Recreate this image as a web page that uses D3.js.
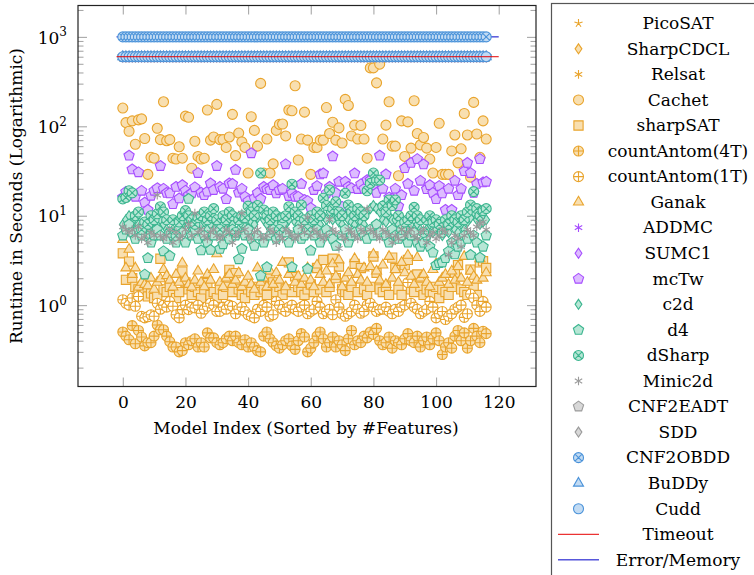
<!DOCTYPE html>
<html>
<head>
<meta charset="utf-8">
<script src="https://cdn.jsdelivr.net/npm/d3@7"></script>
<style>
  body { margin: 0; background: #fff; }
  text { font-family: "DejaVu Serif", serif; fill: #000; }
</style>
</head>
<body>
<svg id="chart" width="754" height="575"></svg>
<script>
// ---- data: runtime (s) per model, models sorted by number of features ----
const modelIndex = d3.range(117);
const TIMEOUT = 600;
const ERROR_MEM = 1000;
const limitLineRange = [-2, 120];

const xTicks = [0, 20, 40, 60, 80, 100, 120];
const yMajorTicks = [1, 10, 100, 1000];
const yTickExponents = ["0", "1", "2", "3"];

// solvers that timed out on every model
const allTimeout = [
  600,600,600,600,600,600,600,600,600,600,600,600,600,600,600,600,600,600,600,600,
  600,600,600,600,600,600,600,600,600,600,600,600,600,600,600,600,600,600,600,600,
  600,600,600,600,600,600,600,600,600,600,600,600,600,600,600,600,600,600,600,600,
  600,600,600,600,600,600,600,600,600,600,600,600,600,600,600,600,600,600,600,600,
  600,600,600,600,600,600,600,600,600,600,600,600,600,600,600,600,600,600,600,600,
  600,600,600,600,600,600,600,600,600,600,600,600,600,600,600,600,600];
// solvers that failed (error / out of memory) on every model
const allError = [
  1000,1000,1000,1000,1000,1000,1000,1000,1000,1000,1000,1000,1000,1000,1000,1000,1000,1000,1000,1000,
  1000,1000,1000,1000,1000,1000,1000,1000,1000,1000,1000,1000,1000,1000,1000,1000,1000,1000,1000,1000,
  1000,1000,1000,1000,1000,1000,1000,1000,1000,1000,1000,1000,1000,1000,1000,1000,1000,1000,1000,1000,
  1000,1000,1000,1000,1000,1000,1000,1000,1000,1000,1000,1000,1000,1000,1000,1000,1000,1000,1000,1000,
  1000,1000,1000,1000,1000,1000,1000,1000,1000,1000,1000,1000,1000,1000,1000,1000,1000,1000,1000,1000,
  1000,1000,1000,1000,1000,1000,1000,1000,1000,1000,1000,1000,1000,1000,1000,1000,1000];

const cachet = [
  160,110,88,115,63,118,121,73,29,45,
  44,95,71,188,69,71,44,43,59,44,
  130,126,34,68,46,43,44,152,70,76,
  176,71,71,58,76,136,47,84,67,58,
  30,128,90,60,302,30,72,30,38,90,
  105,106,78,152,149,284,42,72,144,70,
  29,58,58,70,70,162,83,111,70,96,
  65,200,171,78,103,72,102,72,44,450,
  450,306,495,72,103,188,60,60,28,115,
  46,112,57,193,83,62,75,57,43,30,
  58,108,29,29,29,53,80,39,56,139,
  80,27,185,82,45,115,72];

const sharpSAT = [
  3.8,1.92,3.07,2.0,1.6,1.5,1.3,1.4,1.25,1.35,
  1.2,1.3,3.3,1.5,1.4,1.6,1.3,1.2,1.4,2.37,
  1.8,1.5,1.3,1.6,1.4,1.2,1.5,1.76,1.3,1.4,
  1.2,1.5,1.3,1.6,2.48,1.4,2.28,1.5,1.3,1.2,
  1.5,1.4,1.3,1.6,1.4,1.5,1.3,2.0,1.8,1.4,
  1.6,1.3,1.5,3.0,1.4,2.1,1.6,1.4,1.3,1.5,
  1.7,1.4,2.6,1.5,3.2,1.4,1.6,3.3,2.0,2.7,
  1.5,1.4,1.3,1.6,2.9,1.4,2.6,1.5,1.3,1.6,
  3.5,2.3,1.5,1.4,1.6,1.3,3.4,2.6,1.5,1.3,
  2.8,3.2,1.5,1.4,2.2,1.6,1.3,1.5,1.4,1.3,
  1.6,1.2,1.5,1.4,1.3,1.6,2.3,2.8,1.5,1.4,
  1.3,2.5,1.6,1.3,3.0,3.1,2.6];

const countAntom4T = [
  0.50,0.45,0.41,0.59,0.37,0.52,0.44,0.35,0.38,0.38,
  0.45,0.60,0.53,0.53,0.45,0.39,0.34,0.34,0.30,0.31,
  0.38,0.36,0.40,0.42,0.34,0.38,0.34,0.49,0.43,0.43,
  0.38,0.36,0.38,0.42,0.45,0.40,0.45,0.38,0.36,0.41,
  0.34,0.38,0.34,0.31,0.30,0.45,0.50,0.42,0.38,0.35,
  0.33,0.36,0.40,0.42,0.35,0.32,0.40,0.48,0.44,0.30,
  0.33,0.38,0.45,0.50,0.42,0.34,0.38,0.44,0.34,0.40,
  0.36,0.31,0.42,0.52,0.36,0.40,0.38,0.45,0.43,0.50,
  0.47,0.55,0.40,0.36,0.38,0.44,0.33,0.40,0.38,0.36,
  0.42,0.48,0.40,0.38,0.45,0.34,0.40,0.44,0.36,0.42,
  0.49,0.40,0.28,0.34,0.38,0.33,0.45,0.52,0.40,0.49,
  0.33,0.40,0.55,0.45,0.38,0.51,0.48];

const countAntom1T = [
  1.15,1.05,1.0,1.2,0.97,1.25,0.75,0.72,0.74,0.78,
  0.75,1.05,0.9,1.0,0.95,1.1,0.97,0.78,0.72,0.89,
  1.0,0.89,0.95,0.93,1.0,0.81,0.9,0.97,1.05,1.0,
  0.85,0.85,0.95,0.9,1.0,0.97,0.8,0.9,0.95,0.85,
  0.78,0.75,0.72,0.9,0.85,1.0,0.95,0.75,0.78,1.1,
  1.0,0.9,0.85,0.95,1.0,0.9,0.85,0.95,1.0,0.8,
  0.85,0.9,1.1,0.95,0.8,0.85,0.9,0.78,1.15,0.95,
  0.8,0.75,0.8,0.85,1.0,0.9,0.81,0.85,1.0,1.05,
  0.95,0.85,0.89,0.9,0.95,0.85,0.8,0.9,0.85,0.95,
  1.0,1.79,1.05,0.95,0.9,0.8,0.85,0.9,1.1,0.95,
  0.72,0.8,0.85,0.69,0.75,0.8,0.9,0.95,1.0,0.73,
  0.8,1.33,1.2,1.0,0.85,1.1,0.95];

const ganak = [
  5.4,2.6,4.2,2.2,2.6,1.59,1.8,1.7,1.64,2.0,
  1.5,1.8,1.97,2.5,2.13,1.9,1.59,2.2,1.8,2.95,
  2.0,1.7,1.59,1.9,2.4,1.8,1.6,2.2,1.9,2.5,
  3.74,1.8,1.6,2.0,2.2,1.7,1.9,2.3,1.6,1.8,
  2.1,1.7,1.5,2.6,1.8,2.0,1.6,2.4,1.7,2.3,
  1.9,3.0,1.6,2.2,2.5,1.8,2.1,1.7,2.0,2.6,
  1.9,1.6,2.8,2.2,1.8,2.4,1.7,2.9,2.1,3.2,
  1.6,2.0,2.3,1.8,3.3,2.2,1.9,2.6,1.8,2.7,
  3.7,2.4,1.9,2.8,1.7,3.5,2.0,2.5,1.8,3.0,
  2.3,3.6,2.1,1.7,3.4,2.0,2.2,1.8,1.6,2.5,
  2.9,1.8,2.0,2.2,1.7,2.4,1.9,2.7,2.0,3.5,
  1.8,2.4,2.1,1.9,3.3,2.0,2.3];

const mcTw = [
  16,18.5,47,33,16.3,30.6,19,14,11.6,16.7,
  19,20.3,36,20,18,17.8,13.5,21,15.6,22,
  19,17,17.8,20.8,30,18.1,17,18.6,23,19.4,
  36,21,20,15.3,23,22.7,32.5,18.1,20,16.3,
  14.6,50,15.7,18,15.4,21,19.8,19.4,22,17.8,
  19.4,20,37.6,16.6,18,16.3,16.3,22.7,15,14.6,
  12.2,19.4,21.5,29,29.7,17.8,21,46,18,24,
  12.6,24,21,20.3,29.7,19.9,22.5,20,25,25,
  22,18,47,20,29,16,15.4,20,12.8,17,
  34,22.7,39,19,43,24.6,37.5,19.8,22,18,
  15.3,21.5,17.8,11.6,20,11.6,24.6,17,20,31.5,
  39,30,18,22.7,43,23.6,24];

const c2d = [
  8,9,10,8.5,7,8,7.5,6.5,6,7.5,
  7,8,9,8,7,6.5,7,6,7,8,
  9,8,7,6.5,7.5,8,8.5,7,8,9,
  7,6.5,8,7,8.5,8,6.5,7,8,7.5,
  9,8.5,8,9.5,12,9,8,7,8.5,8,
  7,7.5,8,9,11,8.5,8,9.5,7,6.5,
  8,7,8.5,8,10,9,11,9,10,8.5,
  8,10,9,8.5,8,9,8.5,8,11,12,
  13,12,11,9,8.5,10,9,8.95,8,7,
  6.5,7,8,9,8,7,6.5,7,8,6.5,
  7,6.5,6,7,6.5,8,7,6.5,8,7,
  8.5,9.5,11,9,8,8.5,9];

const d4 = [
  6,7,8,6.5,5.5,7,6,2.2,3.35,5,
  6,7,6,4,5.5,3.55,6,5,7,6.5,
  5,15.4,6,7,5.5,4.1,6,5,4.15,6,
  7,4.25,4.8,6,5.5,7,6,3.26,4.25,6,
  7,5.5,4.6,6,2.13,5,2.66,6,7,5.5,
  6,8,6.5,5,2.66,6,7,5.5,6,2.54,
  4.07,6,7,5,6.5,7,6,5.5,4.6,9.96,
  6,7,5,6,6.5,11.9,7,6,5.5,7,
  6,8,6.5,12.8,6,5,7,6,5.5,6,
  7,5,6,6.5,5,4.5,5,6,4.5,3.87,
  2.8,2.95,3.0,3.35,4,5,3.7,4.5,5,6,
  5.5,3.65,6,5,3.4,4.5,6];

const dSharp = [
  15.4,16,19,18,10,11,7,8.5,8,10,
  9,10.5,12.6,11,9,6.5,9,6,8.5,10,
  11.4,10,9,8,9.5,10,11,9,10,12,
  9,7,10,9,11,10,6.5,9,10,9.5,
  12.8,11,10,13,30,11.6,10,9,11,10,
  7,9.5,10,12.6,22.5,11,10,13.2,9,7,
  10,9,11,10,15.7,13,19.4,12,14.3,11,
  10,17.8,13.2,11,10,12,11,10,19,23,
  30,25,25,12.8,11,15,13,15,10,7,
  8.5,9,10,12.4,10,9,6.5,9,10,8.5,
  9,8,6.5,9,8,10,9,8.5,10,9,
  11,13.2,18.6,12,10,11.4,12];

const minic2d = [
  7.5,7,6.5,7,6,7.5,5.5,6,5,6.5,
  6,17,6,5.5,6,7,5,6.5,5.5,6,
  7,8,6,10.7,6.5,7,6,5.5,6.5,7,
  6,5.5,6,7,6.5,5,6,6.5,10.7,7,
  6,5.5,6.5,7,6,5.5,6,7,6.5,5,
  6,5.5,7,6.5,6,5.5,6,7.5,6.5,9.6,
  6,7,6.5,6,5.5,6,9.1,7,6.5,4.3,
  6,5.5,7,6.5,6,5.5,7,6.5,11.9,7,
  6.5,6,5.5,7,6.5,6,5,6,5.5,7,
  6,6.5,7,6,5.5,6.5,7,5,6,6.5,
  5.5,6,7,6.5,3.65,5,6,5.5,4.5,6,
  7,6.5,6,7.5,8.2,8.5,7];

// ---- solver list (drawing order = legend order) ----
const ORANGE = { stroke: "#e9a42c", fill: "#f8dfb0" };
const PURPLE = { stroke: "#a64dff", fill: "#ddbcff" };
const TEAL   = { stroke: "#3bb58f", fill: "#b7e6d5" };
const GRAY   = { stroke: "#9b9b9b", fill: "#d8d8d8" };
const BLUE   = { stroke: "#4a92d9", fill: "#c2dbf3" };

const solvers = [
  { name: "PicoSAT",        values: allTimeout,   shape: "star",     col: ORANGE, fill: "none" },
  { name: "SharpCDCL",      values: allTimeout,   shape: "diamond",  col: ORANGE },
  { name: "Relsat",         values: allTimeout,   shape: "asterisk", col: ORANGE, fill: "none" },
  { name: "Cachet",         values: cachet,       shape: "circle",   col: ORANGE },
  { name: "sharpSAT",       values: sharpSAT,     shape: "square",   col: ORANGE },
  { name: "countAntom(4T)", values: countAntom4T, shape: "oplus",    col: ORANGE },
  { name: "countAntom(1T)", values: countAntom1T, shape: "oplus",    col: ORANGE, fill: "#ffffff" },
  { name: "Ganak",          values: ganak,        shape: "triangle", col: ORANGE },
  { name: "ADDMC",          values: allTimeout,   shape: "asterisk", col: PURPLE, fill: "none" },
  { name: "SUMC1",          values: allTimeout,   shape: "diamond",  col: PURPLE },
  { name: "mcTw",           values: mcTw,         shape: "pentagon", col: PURPLE },
  { name: "c2d",            values: c2d,          shape: "diamond",  col: TEAL },
  { name: "d4",             values: d4,           shape: "pentagon", col: TEAL },
  { name: "dSharp",         values: dSharp,       shape: "otimes",   col: TEAL },
  { name: "Minic2d",        values: minic2d,      shape: "asterisk", col: GRAY, fill: "none" },
  { name: "CNF2EADT",       values: allTimeout,   shape: "pentagon", col: GRAY },
  { name: "SDD",            values: allTimeout,   shape: "diamond",  col: GRAY },
  { name: "CNF2OBDD",       values: allError,     shape: "otimes",   col: BLUE },
  { name: "BuDDy",          values: allTimeout,   shape: "triangle", col: BLUE },
  { name: "Cudd",           values: allTimeout,   shape: "circle",   col: BLUE }
];
const limitLines = [
  { name: "Timeout",      value: TIMEOUT,   color: "#e60000", above: true },
  { name: "Error/Memory", value: ERROR_MEM, color: "#0000c8", above: false }
];

// ---- marker outlines ----
function circ(r) { return `M${r},0A${r},${r} 0 1,1 ${-r},0A${r},${r} 0 1,1 ${r},0Z`; }
function markerPath(shape) {
  const r = 5;
  switch (shape) {
    case "circle": return circ(r);
    case "oplus": return circ(r) + `M${-r},0H${r}M0,${-r}V${r}`;
    case "otimes": { const q = r * 0.7071; return circ(r) + `M${-q},${-q}L${q},${q}M${-q},${q}L${q},${-q}`; }
    case "square": { const s = 4.6; return `M${-s},${-s}H${s}V${s}H${-s}Z`; }
    case "triangle": { const t = 5.8; return `M0,${-t}L${t*0.866},${t*0.5}L${-t*0.866},${t*0.5}Z`; }
    case "diamond": return `M0,-5L3.4,0L0,5L-3.4,0Z`;
    case "pentagon": {
      const p = 5.4;
      return d3.range(5).map((k, i) => {
        const a = -Math.PI / 2 + k * 2 * Math.PI / 5;
        return (i ? "L" : "M") + (p * Math.cos(a)).toFixed(2) + "," + (p * Math.sin(a)).toFixed(2);
      }).join("") + "Z";
    }
    case "asterisk": {
      const a = 4.3;
      return [90, 30, 150].map(deg => {
        const t = deg * Math.PI / 180, dx = a * Math.cos(t), dy = a * Math.sin(t);
        return `M${(-dx).toFixed(2)},${(-dy).toFixed(2)}L${dx.toFixed(2)},${dy.toFixed(2)}`;
      }).join("");
    }
    case "star": {
      const a = 4.3;
      return d3.range(5).map(k => {
        const t = -Math.PI / 2 + k * 2 * Math.PI / 5;
        return `M0,0L${(a * Math.cos(t)).toFixed(2)},${(a * Math.sin(t)).toFixed(2)}`;
      }).join("");
    }
  }
}

// ---- layout ----
const svg = d3.select("#chart");
const plot = { left: 78, top: 5.5, right: 536, bottom: 386.5 };

const x = d3.scaleLinear().domain([-14.3, 131.9]).range([plot.left, plot.right]);
const y = d3.scaleLog().domain([0.123, 2244]).range([plot.bottom, plot.top]);

const yMinorTicks = [];
[0.1, 1, 10, 100, 1000].forEach(b => d3.range(2, 10).forEach(m => {
  const v = b * m;
  if (v > 0.123 && v < 2244) yMinorTicks.push(v);
}));

const TICK_COLOR = "#a8a8a8";
function styleAxis(g) {
  g.select(".domain").remove();
  g.selectAll(".tick line").attr("stroke", TICK_COLOR).attr("stroke-width", 1.1);
  g.selectAll(".tick text").attr("font-family", "DejaVu Serif").attr("font-size", 17).attr("fill", "#000");
}

// bottom axis (labels) and top axis (ticks only)
svg.append("g").attr("transform", `translate(0,${plot.bottom})`)
  .call(d3.axisBottom(x).tickValues(xTicks).tickSizeInner(-9).tickSizeOuter(0).tickPadding(9))
  .call(styleAxis);
svg.append("g").attr("transform", `translate(0,${plot.top})`)
  .call(d3.axisTop(x).tickValues(xTicks).tickSizeInner(-9).tickSizeOuter(0).tickFormat(""))
  .call(styleAxis);

// left/right log axes: majors, then minors
const leftMajor = svg.append("g").attr("transform", `translate(${plot.left},0)`)
  .call(d3.axisLeft(y).tickValues(yMajorTicks).tickSizeInner(-9).tickSizeOuter(0).tickPadding(11)
    .tickFormat(() => "10"))
  .call(styleAxis);
leftMajor.selectAll(".tick text").each(function (d, i) {
  d3.select(this).attr("dy", "0.36em")
    .append("tspan").attr("dy", "-0.6em").attr("font-size", 12).text(yTickExponents[i]);
});
svg.append("g").attr("transform", `translate(${plot.left},0)`)
  .call(d3.axisLeft(y).tickValues(yMinorTicks).tickSizeInner(-5.5).tickSizeOuter(0).tickFormat(""))
  .call(styleAxis);
svg.append("g").attr("transform", `translate(${plot.right},0)`)
  .call(d3.axisRight(y).tickValues(yMajorTicks).tickSizeInner(-9).tickSizeOuter(0).tickFormat(""))
  .call(styleAxis);
svg.append("g").attr("transform", `translate(${plot.right},0)`)
  .call(d3.axisRight(y).tickValues(yMinorTicks).tickSizeInner(-5.5).tickSizeOuter(0).tickFormat(""))
  .call(styleAxis);

// limit line helper
function drawLimit(parent, d) {
  parent.append("line")
    .attr("x1", x(limitLineRange[0])).attr("x2", x(limitLineRange[1]))
    .attr("y1", y(d.value)).attr("y2", y(d.value))
    .attr("stroke", d.color).attr("stroke-width", 1);
}

// error line sits beneath the markers
limitLines.filter(d => !d.above).forEach(d => drawLimit(svg, d));

// markers
const marks = svg.append("g");
solvers.forEach(s => {
  const path = markerPath(s.shape);
  marks.append("g")
    .selectAll("path")
    .data(s.values.map((v, i) => ({ i: modelIndex[i], v })))
    .join("path")
    .attr("transform", d => `translate(${x(d.i).toFixed(2)},${y(d.v).toFixed(2)})`)
    .attr("d", path)
    .attr("fill", s.fill || s.col.fill)
    .attr("stroke", s.col.stroke)
    .attr("stroke-width", 1.1);
});

// timeout line drawn over the markers
limitLines.filter(d => d.above).forEach(d => drawLimit(svg, d));

// frame
svg.append("rect")
  .attr("x", plot.left).attr("y", plot.top)
  .attr("width", plot.right - plot.left).attr("height", plot.bottom - plot.top)
  .attr("fill", "none").attr("stroke", "#222").attr("stroke-width", 1.2);

// axis titles
svg.append("text").attr("x", (plot.left + plot.right) / 2 - 1).attr("y", 434)
  .attr("text-anchor", "middle").attr("font-size", 17)
  .text("Model Index (Sorted by #Features)");
svg.append("text").attr("transform", "translate(22,196) rotate(-90)")
  .attr("text-anchor", "middle").attr("font-size", 17)
  .text("Runtime in Seconds (Logarithmic)");

// legend
const legend = svg.append("g");
legend.append("rect").attr("x", 551.5).attr("y", 3.5).attr("width", 260).attr("height", 620)
  .attr("fill", "#fff").attr("stroke", "#555").attr("stroke-width", 1.2);
const rowY = k => 23.3 + 25.55 * k;
solvers.forEach((s, k) => {
  legend.append("path")
    .attr("transform", `translate(578.5,${rowY(k)})`)
    .attr("d", markerPath(s.shape))
    .attr("fill", s.fill || s.col.fill)
    .attr("stroke", s.col.stroke).attr("stroke-width", 1.1);
  legend.append("text").attr("x", 678).attr("y", rowY(k)).attr("dy", "0.34em")
    .attr("text-anchor", "middle").attr("font-size", 17).text(s.name);
});
limitLines.forEach((l, j) => {
  const k = solvers.length + j;
  legend.append("line").attr("x1", 558).attr("x2", 599).attr("y1", rowY(k)).attr("y2", rowY(k))
    .attr("stroke", l.color).attr("stroke-width", 1);
  legend.append("text").attr("x", 678).attr("y", rowY(k)).attr("dy", "0.34em")
    .attr("text-anchor", "middle").attr("font-size", 17).text(l.name);
});
</script>
</body>
</html>
